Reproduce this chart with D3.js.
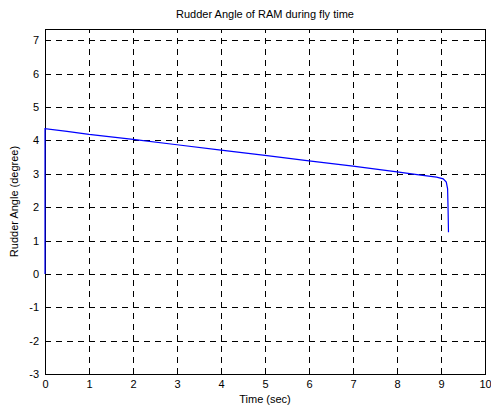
<!DOCTYPE html>
<html>
<head>
<meta charset="utf-8">
<script src="https://cdn.jsdelivr.net/npm/d3@7"></script>
<style>
  body { margin: 0; background: #fff; }
  svg text { font-family: "Liberation Sans", Arial, sans-serif; }
</style>
</head>
<body>
<div id="chart"></div>
<script>
const width = 491,
  height = 410,
  margin = { top: 29, right: 6, bottom: 36, left: 45 };

// rudder angle trace
const timeSec = [0, 0, 0.5, 1, 2, 3, 4, 5, 6, 7, 8, 8.5, 8.9, 9.05, 9.12, 9.15, 9.16, 9.17];
const angleDeg = [0, 4.35, 4.27, 4.18, 4.03, 3.87, 3.71, 3.55, 3.39, 3.23, 3.06, 2.97, 2.9, 2.85, 2.75, 2.55, 2.0, 1.25];
const xTicks = [0, 1, 2, 3, 4, 5, 6, 7, 8, 9, 10];
const yTicks = [-3, -2, -1, 0, 1, 2, 3, 4, 5, 6, 7];

const x = d3.scaleLinear()
  .domain([0, 10])
  .range([margin.left, width - margin.right]);
const y = d3.scaleLinear()
  .domain([-3, 7.34])
  .range([height - margin.bottom, margin.top]);

const svg = d3.select('#chart')
  .append('svg')
  .attr('width', width)
  .attr('height', height);

const grid = svg.append('g')
  .attr('stroke', '#000')
  .attr('stroke-width', 1)
  .attr('stroke-dasharray', '6,5')
  .attr('shape-rendering', 'crispEdges');

grid.selectAll('line.gx')
  .data(xTicks.slice(1, -1))
  .enter().append('line')
  .attr('class', 'gx')
  .attr('x1', d => Math.round(x(d)) + 0.5)
  .attr('x2', d => Math.round(x(d)) + 0.5)
  .attr('y1', y.range()[0])
  .attr('y2', y.range()[1]);

grid.selectAll('line.gy')
  .data(yTicks.slice(1))
  .enter().append('line')
  .attr('class', 'gy')
  .attr('x1', x.range()[0])
  .attr('x2', x.range()[1])
  .attr('y1', d => Math.round(y(d)) + 0.5)
  .attr('y2', d => Math.round(y(d)) + 0.5);

// plain hyphen for negatives, like the original
const fmt = d => String(d);

// axes, MATLAB style: ticks pointing inward on all four sides
const axBottom = svg.append('g')
  .attr('transform', `translate(0,${height - margin.bottom})`)
  .call(d3.axisBottom(x).tickValues(xTicks).tickFormat(fmt).tickSizeInner(-4).tickSizeOuter(0).tickPadding(6));
const axTop = svg.append('g')
  .attr('transform', `translate(0,${margin.top})`)
  .call(d3.axisTop(x).tickValues(xTicks).tickSizeInner(-4).tickSizeOuter(0).tickFormat(''));
const axLeft = svg.append('g')
  .attr('transform', `translate(${margin.left},0)`)
  .call(d3.axisLeft(y).tickValues(yTicks).tickFormat(fmt).tickSizeInner(-4).tickSizeOuter(0).tickPadding(6));
const axRight = svg.append('g')
  .attr('transform', `translate(${width - margin.right},0)`)
  .call(d3.axisRight(y).tickValues(yTicks).tickSizeInner(-4).tickSizeOuter(0).tickFormat(''));

[axBottom, axTop, axLeft, axRight].forEach(g => {
  g.selectAll('path, line').attr('stroke', '#000').attr('shape-rendering', 'crispEdges');
  g.selectAll('text')
    .attr('fill', '#000')
    .style('font-size', '11px')
    .style('font-family', '"Liberation Sans", Arial, sans-serif');
});

const line = d3.line()
  .x((d, i) => x(timeSec[i]))
  .y(d => y(d));

svg.append('path')
  .datum(angleDeg)
  .attr('fill', 'none')
  .attr('stroke', '#0000ff')
  .attr('stroke-width', 1.2)
  .attr('d', line);

svg.append('text')
  .attr('x', (x.range()[0] + x.range()[1]) / 2)
  .attr('y', 18)
  .attr('text-anchor', 'middle')
  .style('font-size', '11px')
  .text('Rudder Angle of RAM during fly time');

svg.append('text')
  .attr('x', (x.range()[0] + x.range()[1]) / 2)
  .attr('y', 403)
  .attr('text-anchor', 'middle')
  .style('font-size', '11px')
  .text('Time (sec)');

svg.append('text')
  .attr('transform', `translate(18,${(y.range()[0] + y.range()[1]) / 2}) rotate(-90)`)
  .attr('text-anchor', 'middle')
  .style('font-size', '11px')
  .text('Rudder Angle (degree)');
</script>
</body>
</html>
